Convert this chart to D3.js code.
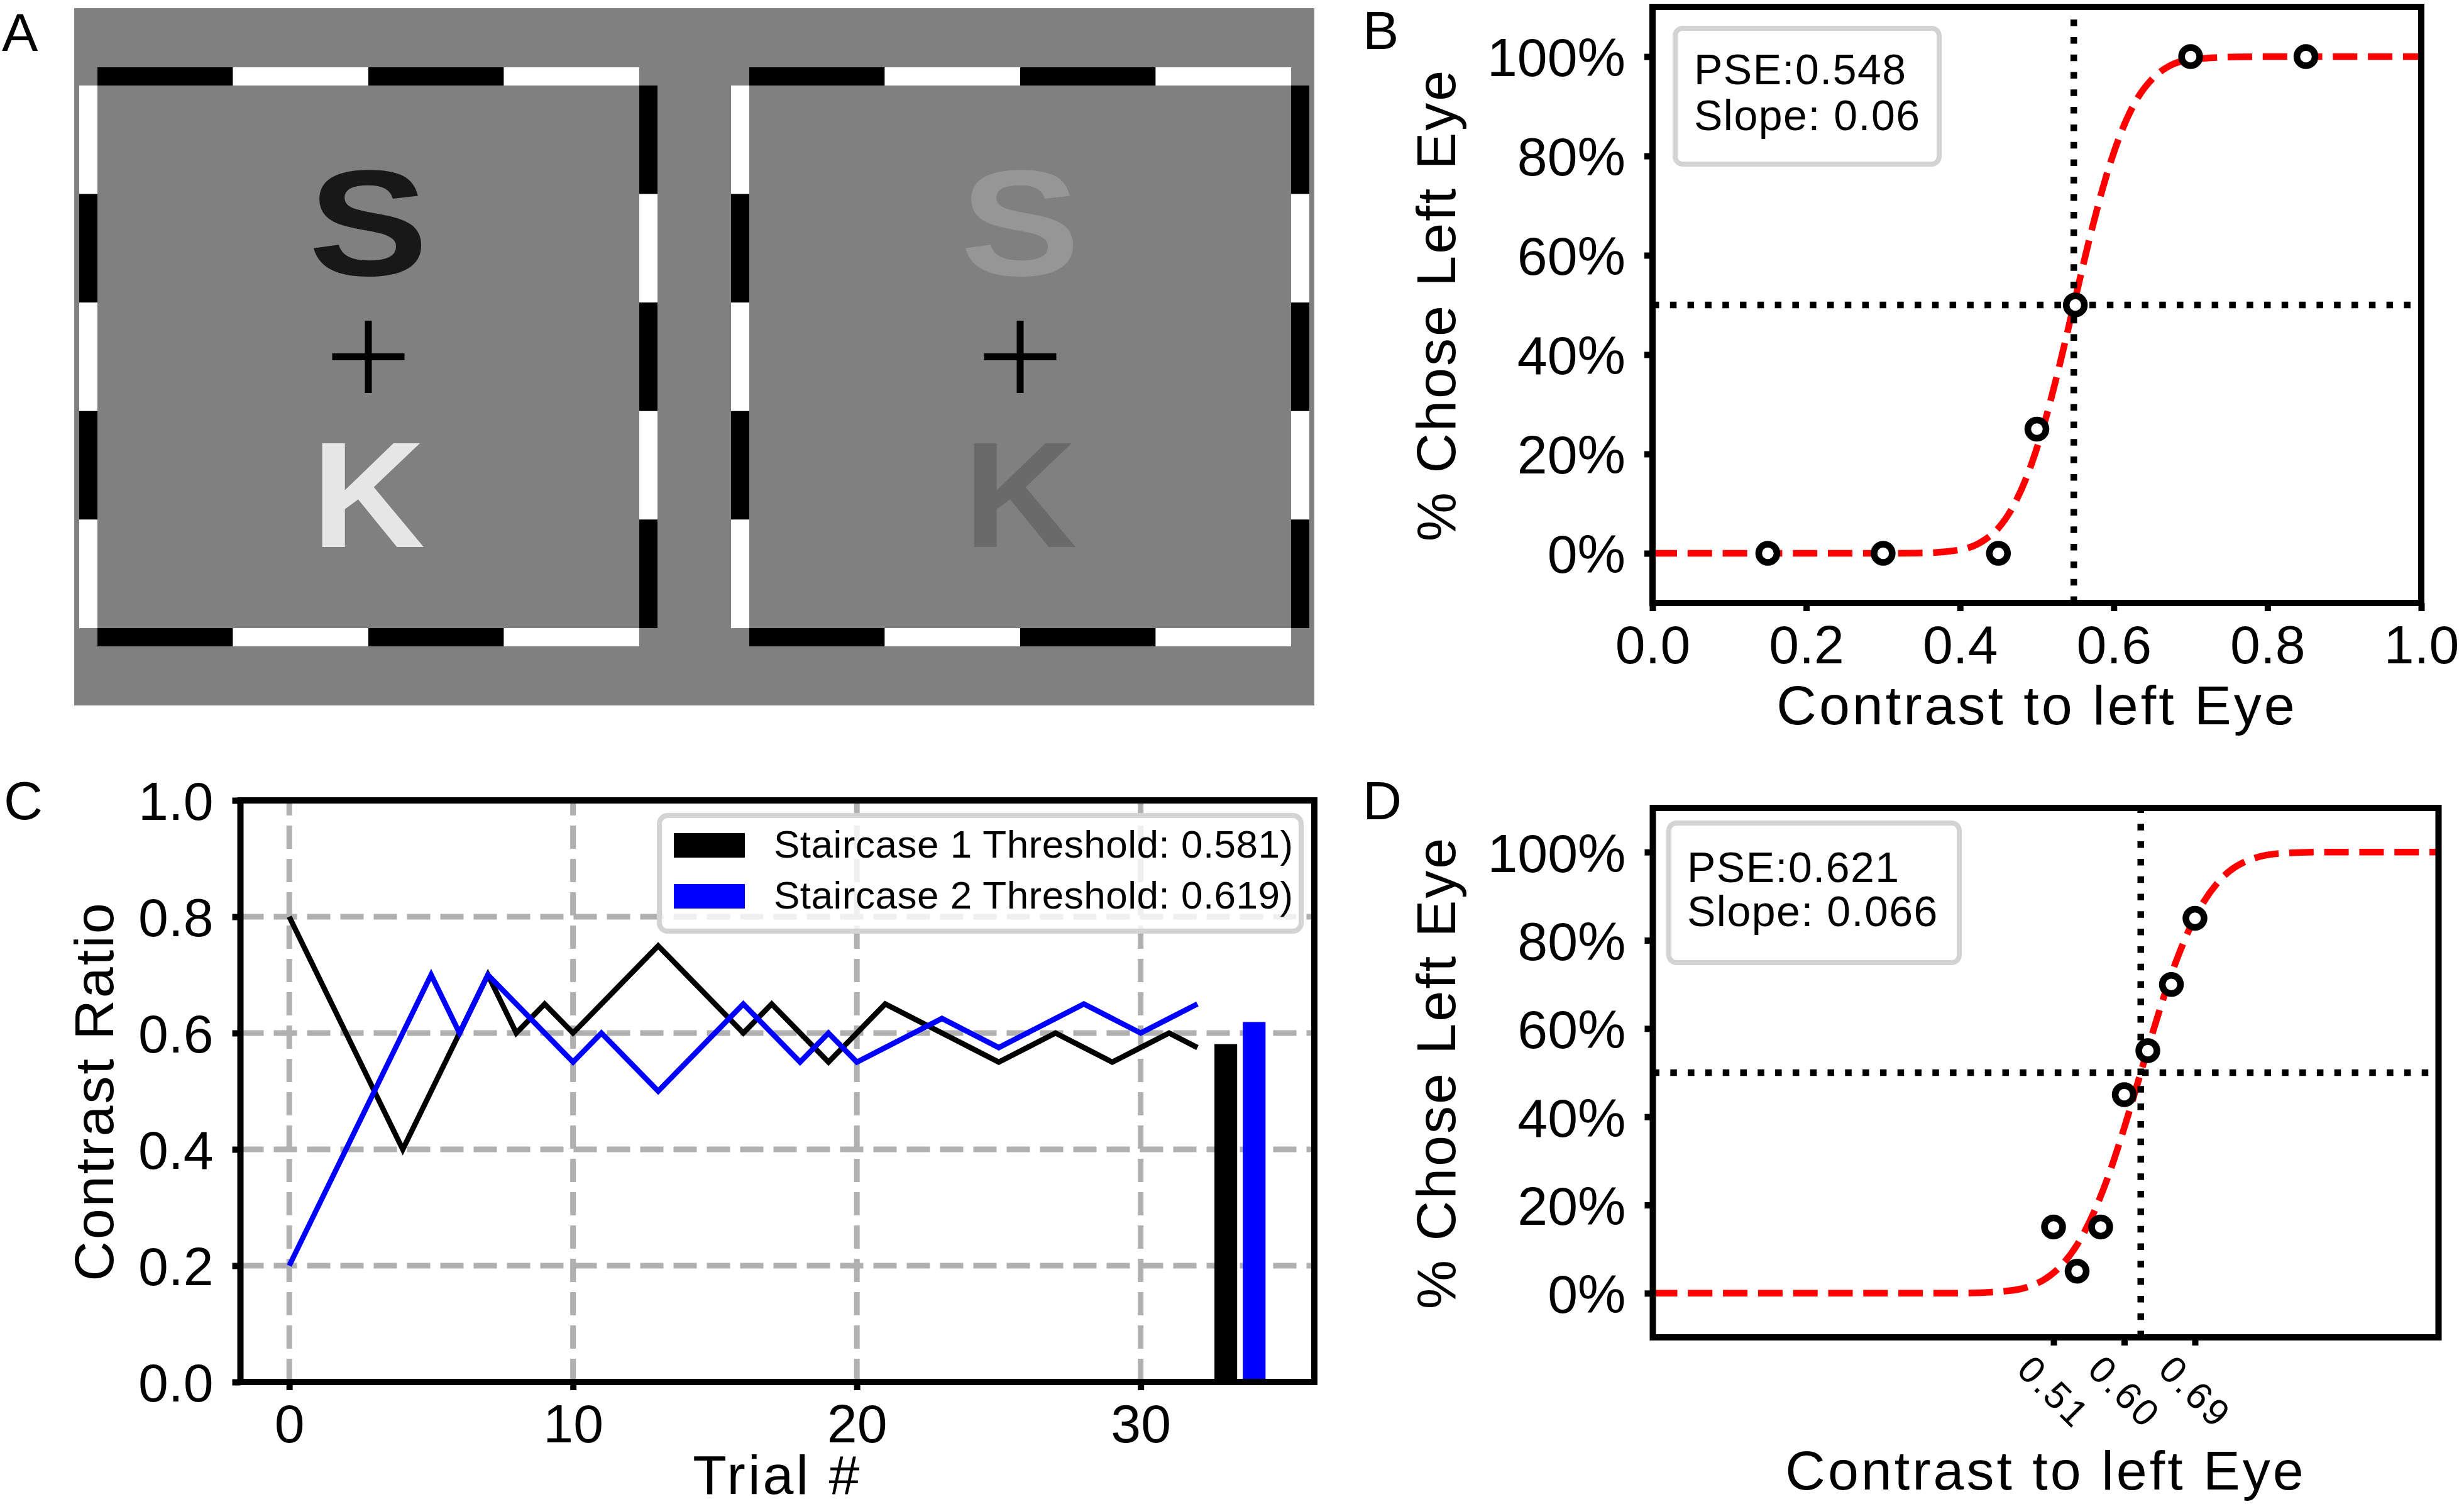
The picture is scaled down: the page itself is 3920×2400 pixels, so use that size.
<!DOCTYPE html>
<html>
<head>
<meta charset="utf-8">
<title>Contrast staircase figure</title>
<script src="https://cdn.jsdelivr.net/npm/d3@7"></script>
<style>
  body { margin: 0; background: #fff; }
  svg text { font-family: "Liberation Sans", Arial, Helvetica, sans-serif; fill: #000; }
</style>
</head>
<body>
<svg id="fig" width="3920" height="2400"></svg>
<script>
// ---------- data ----------
// panel A : stimulus luminance (0 black, 1 white), background 0.5
var eyeNames = ["left", "right"];
var stimLetters = ["S", "K"];
var letterLum = [[0.094, 0.902], [0.588, 0.416]];
var frameTopLum = [0, 1, 0, 1];
var frameLeftLum = [1, 0, 1, 0, 1];
var frameRightLum = [0, 1, 0, 1, 0];

// panel B : psychometric function, first run
var bContrast = [0.15, 0.30, 0.45, 0.50, 0.55, 0.70, 0.85];
var bChoseLeft = [0, 0, 0, 0.25, 0.50, 1, 1];
var bFitX = [0, 0.30, 0.35, 0.40, 0.43, 0.45, 0.47, 0.49, 0.51, 0.53, 0.548, 0.57, 0.59, 0.61, 0.63, 0.65, 0.67, 0.70, 0.75, 0.80, 1.0];
var bFitY = [0, 0, 0.0005, 0.007, 0.025, 0.051, 0.097, 0.167, 0.263, 0.382, 0.50, 0.643, 0.758, 0.849, 0.914, 0.955, 0.979, 0.994, 0.999, 1, 1];
var bPSE = 0.548, bSlope = 0.06;
var bXTicks = [0, 0.2, 0.4, 0.6, 0.8, 1.0];

// panel C : two interleaved staircases (trial 0..32) and their thresholds
var stair1 = [0.8, 0.7, 0.6, 0.5, 0.4, 0.5, 0.6, 0.7, 0.6, 0.65, 0.6, 0.65, 0.7, 0.75, 0.7, 0.65, 0.6,
              0.65, 0.6, 0.55, 0.6, 0.65, 0.625, 0.6, 0.575, 0.55, 0.575, 0.6, 0.575, 0.55, 0.575, 0.6, 0.575];
var stair2 = [0.2, 0.3, 0.4, 0.5, 0.6, 0.7, 0.6, 0.7, 0.65, 0.6, 0.55, 0.6, 0.55, 0.5, 0.55, 0.6, 0.65,
              0.6, 0.55, 0.6, 0.55, 0.575, 0.6, 0.625, 0.6, 0.575, 0.6, 0.625, 0.65, 0.625, 0.6, 0.625, 0.65];
var thresholds = [0.581, 0.619];
var thresholdTrial = [33, 34];
var stairColors = ["#000000", "#0000ff"];
var cXTicks = [0, 10, 20, 30];
var cYTicks = [0, 0.2, 0.4, 0.6, 0.8, 1.0];

// panel D : psychometric function, refined run
var dContrast = [0.51, 0.54, 0.57, 0.60, 0.63, 0.66, 0.69];
var dChoseLeft = [0.15, 0.05, 0.15, 0.45, 0.55, 0.70, 0.85];
var dFitX = [0, 0.35, 0.40, 0.45, 0.48, 0.50, 0.52, 0.54, 0.56, 0.58, 0.60, 0.621, 0.64, 0.66, 0.68, 0.70, 0.72, 0.75, 0.80, 0.85, 1.0];
var dFitY = [0, 0, 0.0004, 0.005, 0.016, 0.033, 0.063, 0.110, 0.178, 0.267, 0.375, 0.50, 0.613, 0.723, 0.814, 0.884, 0.933, 0.975, 0.997, 1, 1];
var dPSE = 0.621, dSlope = 0.066;
var dXTicks = [0.51, 0.60, 0.69];

var pctTicks = [0, 0.2, 0.4, 0.6, 0.8, 1.0];

// ---------- drawing ----------
var svg = d3.select("#fig");
var lum = d3.scaleLinear().domain([0, 1]).range(["#000000", "#ffffff"]);

function panelLetter(txt, x, y) {
  svg.append("text").attr("x", x).attr("y", y)
    .style("font-size", "86px").text(txt);
}

function styleAxis(sel, size) {
  sel.select(".domain").remove();
  sel.selectAll(".tick line").attr("stroke", "#000").attr("stroke-width", 10);
  sel.selectAll(".tick text")
    .attr("fill", "#000")
    .style("font-family", "'Liberation Sans', Arial, sans-serif")
    .style("font-size", size + "px");
}

function axisLabels(box, xLabel, xBase, yLabel, yBase) {
  svg.append("text")
    .attr("x", (box.left + box.right) / 2).attr("y", xBase)
    .attr("text-anchor", "middle")
    .style("font-size", "88px").style("letter-spacing", "4px")
    .text(xLabel);
  svg.append("text")
    .attr("transform", "translate(" + yBase + "," + ((box.top + box.bottom) / 2) + ") rotate(-90)")
    .attr("text-anchor", "middle")
    .style("font-size", "88px").style("letter-spacing", "3px")
    .text(yLabel);
}

function frame(box) {
  svg.append("rect")
    .attr("x", box.left).attr("y", box.top)
    .attr("width", box.right - box.left).attr("height", box.bottom - box.top)
    .attr("fill", "none").attr("stroke", "#000").attr("stroke-width", 10);
}

// ----- A : dichoptic stimulus -----
(function() {
  svg.append("rect").attr("x", 118).attr("y", 13).attr("width", 1973).attr("height", 1109)
    .attr("fill", lum(0.5));
  var boxLeft = [155, 1192], boxW = 862, boxTop = 136, boxH = 863, bar = 29;

  eyeNames.forEach(function(eye, i) {
    var sx = d3.scaleLinear().domain([0, 1]).range([boxLeft[i], boxLeft[i] + boxW]);
    var sy = d3.scaleLinear().domain([0, 1]).range([boxTop, boxTop + boxH]);
    var g = svg.append("g").attr("class", "eye-" + eye);

    // checkered fusion frame
    [sy(0) - bar, sy(1)].forEach(function(yy) {
      g.selectAll(null).data(frameTopLum).enter().append("rect")
        .attr("x", function(d, k) { return sx(k / frameTopLum.length); })
        .attr("width", sx(1 / frameTopLum.length) - sx(0))
        .attr("y", yy).attr("height", bar)
        .attr("fill", function(d) { return lum(d); });
    });
    [[frameLeftLum, sx(0) - bar], [frameRightLum, sx(1)]].forEach(function(side) {
      var vals = side[0];
      g.selectAll(null).data(vals).enter().append("rect")
        .attr("x", side[1]).attr("width", bar)
        .attr("y", function(d, k) { return sy(k / vals.length); })
        .attr("height", sy(1 / vals.length) - sy(0))
        .attr("fill", function(d) { return lum(d); });
    });

    // letters
    g.selectAll(".letter").data(stimLetters).enter().append("text")
      .attr("class", "letter")
      .attr("transform", function(d, k) {
        return "translate(" + sx(0.5) + "," + (sy(k === 0 ? 0.25 : 0.751) + 86) + ") scale(" + (d === "S" ? 1.19 : 1.04) + ",1)";
      })
      .attr("text-anchor", "middle")
      .style("font-size", "240px").style("font-weight", "bold")
      .style("fill", function(d, k) { return lum(letterLum[i][k]); })
      .text(function(d) { return d; });

    // fixation cross
    g.append("line").attr("x1", sx(0.5)).attr("x2", sx(0.5))
      .attr("y1", sy(0.5) - 57.5).attr("y2", sy(0.5) + 57.5)
      .attr("stroke", "#000").attr("stroke-width", 11);
    g.append("line").attr("x1", sx(0.5) - 57.5).attr("x2", sx(0.5) + 57.5)
      .attr("y1", sy(0.5)).attr("y2", sy(0.5))
      .attr("stroke", "#000").attr("stroke-width", 11);
  });
  panelLetter("A", 3, 81);
})();

// ----- B & D : psychometric functions -----
function psychPanel(cfg) {
  var box = cfg.box;
  var x = d3.scaleLinear().domain([0, 1]).range([box.left, box.right]);
  var y = d3.scaleLinear().domain([-0.1, 1.1]).range([box.bottom, box.top]);
  var g = svg.append("g");

  var line = d3.line()
    .x(function(d) { return x(d[0]); })
    .y(function(d) { return y(d[1]); })
    .curve(d3.curveMonotoneX);

  g.append("path")
    .datum(d3.zip(cfg.fitX, cfg.fitY))
    .attr("d", line)
    .attr("fill", "none").attr("stroke", "#ff0000")
    .attr("stroke-width", 10.5).attr("stroke-dasharray", "39 16.8");

  g.append("line")
    .attr("x1", x(cfg.pse)).attr("x2", x(cfg.pse))
    .attr("y1", box.bottom).attr("y2", box.top)
    .attr("stroke", "#000").attr("stroke-width", 10.5).attr("stroke-dasharray", "10.5 17.3");
  g.append("line")
    .attr("x1", box.left).attr("x2", box.right)
    .attr("y1", y(0.5)).attr("y2", y(0.5))
    .attr("stroke", "#000").attr("stroke-width", 10.5).attr("stroke-dasharray", "10.5 17.3");

  g.selectAll(".pt").data(d3.zip(cfg.px, cfg.py)).enter().append("circle")
    .attr("class", "pt")
    .attr("cx", function(d) { return x(d[0]); })
    .attr("cy", function(d) { return y(d[1]); })
    .attr("r", 14.5)
    .attr("fill", "#fff").attr("stroke", "#000").attr("stroke-width", 10.5);

  // legend box
  var lg = cfg.legend;
  g.append("rect")
    .attr("x", lg.x).attr("y", lg.y).attr("width", lg.w).attr("height", lg.h)
    .attr("rx", 12).attr("ry", 12)
    .attr("fill", "#fff").attr("fill-opacity", 0.8)
    .attr("stroke", "#d3d3d3").attr("stroke-width", 8);
  g.append("text").attr("x", lg.x + lg.pad).attr("y", lg.y + lg.base1)
    .style("font-size", "68px").style("letter-spacing", "1.5px")
    .text("PSE:" + d3.format(".3f")(cfg.pse));
  g.append("text").attr("x", lg.x + lg.pad).attr("y", lg.y + lg.base2)
    .style("font-size", "68px").style("letter-spacing", "1.5px")
    .text("Slope: " + cfg.slope);

  frame(box);

  var ay = svg.append("g").attr("transform", "translate(" + box.left + ",0)")
    .call(d3.axisLeft(y).tickValues(pctTicks).tickFormat(d3.format(".0%")).tickSize(13).tickPadding(30));
  styleAxis(ay, 86);
  ay.selectAll(".tick text").attr("dy", "0.36em");

  var ax = svg.append("g").attr("transform", "translate(0," + box.bottom + ")")
    .call(d3.axisBottom(x).tickValues(cfg.xTicks).tickFormat(d3.format(cfg.xFormat)).tickSize(13).tickPadding(22));
  styleAxis(ax, cfg.rotate ? 60 : 86);
  if (cfg.rotate) {
    ax.selectAll(".tick text")
      .attr("y", 0).attr("dy", null)
      .attr("dominant-baseline", "central")
      .style("letter-spacing", "4px")
      .attr("transform", "translate(0,87) rotate(45)");
  }

  axisLabels(box, "Contrast to left Eye", cfg.xLabelBase, "% Chose Left Eye", 2315);
}

psychPanel({
  box: {left: 2629, right: 3852, top: 11, bottom: 959},
  px: bContrast, py: bChoseLeft, fitX: bFitX, fitY: bFitY,
  pse: bPSE, slope: bSlope,
  xTicks: bXTicks, xFormat: ".1f", rotate: false,
  legend: {x: 2665, y: 45, w: 420, h: 216, pad: 30, base1: 89, base2: 162},
  xLabelBase: 1152
});
panelLetter("B", 2168, 78);

psychPanel({
  box: {left: 2629.5, right: 3879.5, top: 1285, bottom: 2127},
  px: dContrast, py: dChoseLeft, fitX: dFitX, fitY: dFitY,
  pse: dPSE, slope: dSlope,
  xTicks: dXTicks, xFormat: ".2f", rotate: true,
  legend: {x: 2655, y: 1309, w: 462, h: 222, pad: 29, base1: 94, base2: 164},
  xLabelBase: 2369
});
panelLetter("D", 2168, 1303);

// ----- C : staircases -----
(function() {
  var box = {left: 382.5, right: 2091, top: 1273, bottom: 2198};
  var x = d3.scaleLinear().domain([-1.72, 36.12]).range([box.left, box.right]);
  var y = d3.scaleLinear().domain([0, 1]).range([box.bottom, box.top]);
  var g = svg.append("g");

  // dashed grid
  g.selectAll(".vgrid").data(cXTicks).enter().append("line")
    .attr("x1", function(d) { return x(d); }).attr("x2", function(d) { return x(d); })
    .attr("y1", box.bottom).attr("y2", box.top)
    .attr("stroke", "#b0b0b0").attr("stroke-width", 9).attr("stroke-dasharray", "37 16");
  g.selectAll(".hgrid").data(cYTicks).enter().append("line")
    .attr("x1", box.left).attr("x2", box.right)
    .attr("y1", function(d) { return y(d); }).attr("y2", function(d) { return y(d); })
    .attr("stroke", "#b0b0b0").attr("stroke-width", 9).attr("stroke-dasharray", "37 16");

  var line = d3.line()
    .x(function(d, i) { return x(i); })
    .y(function(d) { return y(d); });

  [stair1, stair2].forEach(function(s, k) {
    g.append("path").datum(s).attr("d", line)
      .attr("fill", "none").attr("stroke", stairColors[k])
      .attr("stroke-width", 8.5).attr("stroke-linejoin", "miter");
  });

  g.selectAll(".thr").data(thresholds).enter().append("rect")
    .attr("class", "thr")
    .attr("x", function(d, k) { return x(thresholdTrial[k] - 0.4); })
    .attr("width", function(d, k) { return x(thresholdTrial[k] + 0.4) - x(thresholdTrial[k] - 0.4); })
    .attr("y", function(d) { return y(d); })
    .attr("height", function(d) { return y(0) - y(d); })
    .attr("fill", function(d, k) { return stairColors[k]; });

  frame(box);

  var ay = svg.append("g").attr("transform", "translate(" + box.left + ",0)")
    .call(d3.axisLeft(y).tickValues(cYTicks).tickFormat(d3.format(".1f")).tickSize(13).tickPadding(30));
  styleAxis(ay, 86);
  ay.selectAll(".tick text").attr("dy", "0.36em");
  var ax = svg.append("g").attr("transform", "translate(0," + box.bottom + ")")
    .call(d3.axisBottom(x).tickValues(cXTicks).tickFormat(d3.format("d")).tickSize(13).tickPadding(22));
  styleAxis(ax, 86);

  // legend
  var lg = svg.append("g");
  lg.append("rect")
    .attr("x", 1049).attr("y", 1297).attr("width", 1021).attr("height", 184)
    .attr("rx", 13).attr("ry", 13)
    .attr("fill", "#fff").attr("fill-opacity", 0.8)
    .attr("stroke", "#d3d3d3").attr("stroke-width", 8);
  var entries = lg.selectAll(".entry").data(thresholds).enter().append("g")
    .attr("transform", function(d, k) { return "translate(1072," + (1325 + k * 81) + ")"; });
  entries.append("rect").attr("width", 113).attr("height", 39)
    .attr("fill", function(d, k) { return stairColors[k]; });
  entries.append("text").attr("x", 159).attr("y", 39)
    .style("font-size", "62px").style("letter-spacing", "0.5px")
    .text(function(d, k) { return "Staircase " + (k + 1) + " Threshold: " + d3.format(".3f")(d) + ")"; });

  axisLabels(box, "Trial #", 2376, "Contrast Ratio", 180);
  panelLetter("C", 6, 1303);
})();
</script>
</body>
</html>
